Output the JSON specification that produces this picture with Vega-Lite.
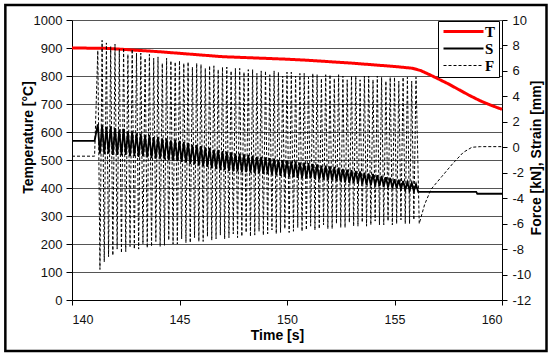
{
  "$schema": "https://vega.github.io/schema/vega-lite/v6.json",
  "width": 430,
  "height": 280,
  "autosize": {"type": "none"},
  "padding": {"left": 72, "top": 20, "right": 50, "bottom": 56},
  "background": "white",
  "datasets": {
    "temp": [
      {"t": 140, "T": 900}, {"t": 141.5, "T": 899}, {"t": 142, "T": 897}, {"t": 143, "T": 892},
      {"t": 144, "T": 887}, {"t": 145, "T": 881}, {"t": 146, "T": 875}, {"t": 147, "T": 869},
      {"t": 148, "T": 866}, {"t": 149, "T": 863}, {"t": 150, "T": 860}, {"t": 151, "T": 856},
      {"t": 152, "T": 851}, {"t": 153, "T": 846}, {"t": 154, "T": 840}, {"t": 155, "T": 834},
      {"t": 155.8, "T": 828}, {"t": 156.2, "T": 820}, {"t": 156.6, "T": 806}, {"t": 157, "T": 791},
      {"t": 157.5, "T": 772}, {"t": 158, "T": 751}, {"t": 158.5, "T": 730}, {"t": 159, "T": 711},
      {"t": 159.5, "T": 695}, {"t": 160, "T": 681}
    ],
    "osc": [
      {"t": 140, "S": 0.5, "F": -0.7},
      {"t": 141.05, "S": 0.5, "F": -0.7},
      {"t": 141.2, "S": 1.8, "F": 7.6}, {"t": 141.3, "S": -0.5, "F": -9.6},
      {"t": 141.4, "S": 1.75, "F": 8.4}, {"t": 141.5, "S": -0.55, "F": -9.0},
      {"t": 141.6, "S": 1.6, "F": 8.2}, {"t": 141.7, "S": -0.5, "F": -8.6},
      {"t": 141.8, "S": 1.65, "F": 7.9}, {"t": 141.9, "S": -0.6, "F": -8.5},
      {"t": 142.0, "S": 1.5, "F": 8.1}, {"t": 142.1, "S": -0.6, "F": -8.0},
      {"t": 142.2, "S": 1.4, "F": 7.7}, {"t": 142.3, "S": -0.65, "F": -8.3},
      {"t": 142.4, "S": 1.45, "F": 7.8}, {"t": 142.5, "S": -0.6, "F": -8.2},
      {"t": 142.6, "S": 1.25, "F": 7.3}, {"t": 142.7, "S": -0.7, "F": -7.8},
      {"t": 142.8, "S": 1.25, "F": 7.7}, {"t": 142.9, "S": -0.7, "F": -8.0},
      {"t": 143.0, "S": 1.1, "F": 7.4}, {"t": 143.1, "S": -0.75, "F": -8.0},
      {"t": 143.2, "S": 1.05, "F": 7.4}, {"t": 143.3, "S": -0.7, "F": -7.6},
      {"t": 143.4, "S": 0.95, "F": 7.0}, {"t": 143.5, "S": -0.8, "F": -7.9},
      {"t": 143.6, "S": 0.95, "F": 7.3}, {"t": 143.7, "S": -0.85, "F": -7.8},
      {"t": 143.8, "S": 0.8, "F": 7.0}, {"t": 143.9, "S": -0.9, "F": -7.4},
      {"t": 144.0, "S": 0.8, "F": 7.1}, {"t": 144.1, "S": -0.9, "F": -7.8},
      {"t": 144.2, "S": 0.7, "F": 6.6}, {"t": 144.3, "S": -0.95, "F": -7.7},
      {"t": 144.4, "S": 0.7, "F": 7.0}, {"t": 144.5, "S": -1.0, "F": -7.3},
      {"t": 144.6, "S": 0.55, "F": 6.8}, {"t": 144.7, "S": -1.05, "F": -7.6},
      {"t": 144.8, "S": 0.6, "F": 6.7}, {"t": 144.9, "S": -1.1, "F": -7.6},
      {"t": 145.0, "S": 0.5, "F": 6.8}, {"t": 145.1, "S": -1.15, "F": -7.2},
      {"t": 145.2, "S": 0.4, "F": 6.6}, {"t": 145.3, "S": -1.2, "F": -7.5},
      {"t": 145.4, "S": 0.35, "F": 6.7}, {"t": 145.5, "S": -1.3, "F": -7.5},
      {"t": 145.6, "S": 0.2, "F": 6.3}, {"t": 145.7, "S": -1.35, "F": -7.1},
      {"t": 145.8, "S": 0.2, "F": 6.6}, {"t": 145.9, "S": -1.45, "F": -7.4},
      {"t": 146.0, "S": 0.1, "F": 6.5}, {"t": 146.1, "S": -1.5, "F": -7.4},
      {"t": 146.2, "S": 0.0, "F": 6.2}, {"t": 146.3, "S": -1.55, "F": -7.0},
      {"t": 146.4, "S": -0.05, "F": 6.4}, {"t": 146.5, "S": -1.65, "F": -7.3},
      {"t": 146.6, "S": -0.2, "F": 6.4}, {"t": 146.7, "S": -1.7, "F": -7.2},
      {"t": 146.8, "S": -0.2, "F": 6.1}, {"t": 146.9, "S": -1.8, "F": -6.9},
      {"t": 147.0, "S": -0.3, "F": 6.3}, {"t": 147.1, "S": -1.8, "F": -7.2},
      {"t": 147.2, "S": -0.35, "F": 6.3}, {"t": 147.3, "S": -1.85, "F": -7.1},
      {"t": 147.4, "S": -0.4, "F": 6.0}, {"t": 147.5, "S": -1.9, "F": -6.8},
      {"t": 147.6, "S": -0.5, "F": 6.2}, {"t": 147.7, "S": -1.9, "F": -7.1},
      {"t": 147.8, "S": -0.5, "F": 6.2}, {"t": 147.9, "S": -1.95, "F": -7.0},
      {"t": 148.0, "S": -0.55, "F": 5.9}, {"t": 148.1, "S": -1.95, "F": -6.7},
      {"t": 148.2, "S": -0.6, "F": 6.1}, {"t": 148.3, "S": -2.0, "F": -7.0},
      {"t": 148.4, "S": -0.65, "F": 6.1}, {"t": 148.5, "S": -2.05, "F": -6.9},
      {"t": 148.6, "S": -0.75, "F": 5.8}, {"t": 148.7, "S": -2.05, "F": -6.6},
      {"t": 148.8, "S": -0.75, "F": 6.0}, {"t": 148.9, "S": -2.1, "F": -6.9},
      {"t": 149.0, "S": -0.8, "F": 6.0}, {"t": 149.1, "S": -2.1, "F": -6.8},
      {"t": 149.2, "S": -0.85, "F": 5.7}, {"t": 149.3, "S": -2.15, "F": -6.5},
      {"t": 149.4, "S": -0.9, "F": 6.0}, {"t": 149.5, "S": -2.2, "F": -6.8},
      {"t": 149.6, "S": -1.0, "F": 5.9}, {"t": 149.7, "S": -2.25, "F": -6.7},
      {"t": 149.8, "S": -1.0, "F": 5.6}, {"t": 149.9, "S": -2.3, "F": -6.4},
      {"t": 150.0, "S": -1.05, "F": 5.9}, {"t": 150.1, "S": -2.3, "F": -6.7},
      {"t": 150.2, "S": -1.1, "F": 5.9}, {"t": 150.3, "S": -2.35, "F": -6.6},
      {"t": 150.4, "S": -1.1, "F": 5.6}, {"t": 150.5, "S": -2.4, "F": -6.3},
      {"t": 150.6, "S": -1.2, "F": 5.8}, {"t": 150.7, "S": -2.4, "F": -6.6},
      {"t": 150.8, "S": -1.2, "F": 5.8}, {"t": 150.9, "S": -2.45, "F": -6.5},
      {"t": 151.0, "S": -1.25, "F": 5.5}, {"t": 151.1, "S": -2.45, "F": -6.2},
      {"t": 151.2, "S": -1.3, "F": 5.8}, {"t": 151.3, "S": -2.5, "F": -6.5},
      {"t": 151.4, "S": -1.35, "F": 5.7}, {"t": 151.5, "S": -2.55, "F": -6.4},
      {"t": 151.6, "S": -1.45, "F": 5.4}, {"t": 151.7, "S": -2.55, "F": -6.1},
      {"t": 151.8, "S": -1.45, "F": 5.7}, {"t": 151.9, "S": -2.6, "F": -6.4},
      {"t": 152.0, "S": -1.5, "F": 5.7}, {"t": 152.1, "S": -2.6, "F": -6.4},
      {"t": 152.2, "S": -1.55, "F": 5.4}, {"t": 152.3, "S": -2.65, "F": -6.0},
      {"t": 152.4, "S": -1.6, "F": 5.7}, {"t": 152.5, "S": -2.7, "F": -6.3},
      {"t": 152.6, "S": -1.7, "F": 5.6}, {"t": 152.7, "S": -2.75, "F": -6.3},
      {"t": 152.8, "S": -1.75, "F": 5.3}, {"t": 152.9, "S": -2.8, "F": -5.9},
      {"t": 153.0, "S": -1.8, "F": 5.6}, {"t": 153.1, "S": -2.8, "F": -6.2},
      {"t": 153.2, "S": -1.85, "F": 5.6}, {"t": 153.3, "S": -2.85, "F": -6.2},
      {"t": 153.4, "S": -1.9, "F": 5.3}, {"t": 153.5, "S": -2.9, "F": -5.9},
      {"t": 153.6, "S": -2.0, "F": 5.6}, {"t": 153.7, "S": -2.95, "F": -6.2},
      {"t": 153.8, "S": -2.05, "F": 5.6}, {"t": 153.9, "S": -3.0, "F": -6.1},
      {"t": 154.0, "S": -2.1, "F": 5.3}, {"t": 154.1, "S": -3.0, "F": -5.8},
      {"t": 154.2, "S": -2.2, "F": 5.6}, {"t": 154.3, "S": -3.05, "F": -6.1},
      {"t": 154.4, "S": -2.25, "F": 5.5}, {"t": 154.5, "S": -3.1, "F": -6.1},
      {"t": 154.6, "S": -2.35, "F": 5.2}, {"t": 154.7, "S": -3.15, "F": -5.8},
      {"t": 154.8, "S": -2.4, "F": 5.5}, {"t": 154.9, "S": -3.2, "F": -6.1},
      {"t": 155.0, "S": -2.5, "F": 5.5}, {"t": 155.1, "S": -3.2, "F": -6.0},
      {"t": 155.2, "S": -2.55, "F": 5.2}, {"t": 155.3, "S": -3.3, "F": -5.7},
      {"t": 155.4, "S": -2.65, "F": 5.5}, {"t": 155.5, "S": -3.35, "F": -6.0},
      {"t": 155.6, "S": -2.75, "F": 5.5}, {"t": 155.7, "S": -3.4, "F": -6.0},
      {"t": 155.8, "S": -2.8, "F": 5.2}, {"t": 155.9, "S": -3.45, "F": -5.7},
      {"t": 156.0, "S": -2.9, "F": 5.5},
      {"t": 156.1, "S": -3.5},
      {"t": 156.15, "F": -6.0},
      {"t": 156.4, "F": -4.5},
      {"t": 156.7, "F": -3.3},
      {"t": 157.2, "F": -2.3},
      {"t": 157.7, "F": -1.3},
      {"t": 158.2, "F": -0.4},
      {"t": 158.6, "F": 0.0},
      {"t": 158.8, "S": -3.5},
      {"t": 158.85, "S": -3.65},
      {"t": 159, "F": 0.05},
      {"t": 160, "S": -3.65, "F": 0.05}
    ]
  },
  "config": {
    "view": {"stroke": null},
    "font": "Liberation Sans",
    "axis": {
      "labelFont": "Liberation Sans",
      "labelFontSize": 13,
      "labelColor": "#111",
      "titleFont": "Liberation Sans",
      "titleFontSize": 14,
      "titleFontWeight": "bold",
      "titleColor": "#000",
      "domainColor": "#000",
      "tickColor": "#000",
      "domainWidth": 1,
      "tickWidth": 1
    }
  },
  "layer": [
    {
      "layer": [
        {
          "data": {"name": "temp"},
          "transform": [{"fold": ["T"], "as": ["series", "v"]}],
          "mark": {"type": "line", "strokeCap": "butt"},
          "encoding": {
            "x": {
              "field": "t", "type": "quantitative",
              "scale": {"domain": [140, 160], "nice": false, "zero": false},
              "axis": {"title": "Time [s]", "values": [140, 145, 150, 155, 160], "grid": false, "tickSize": 5, "labelPadding": 8, "labelFontSize": 12.5, "titleX": 205, "titleY": 35, "titleBaseline": "middle"}
            },
            "y": {
              "field": "v", "type": "quantitative",
              "scale": {"domain": [0, 1000], "nice": false, "zero": false},
              "axis": {"title": "Temperature [°C]", "orient": "left", "format": "d", "values": [0, 100, 200, 300, 400, 500, 600, 700, 800, 900, 1000], "labelOverlap": false, "grid": true, "gridColor": "#555", "gridWidth": 1, "tickSize": 6, "labelPadding": 4, "titleAngle": 270, "titleX": -44, "titleY": 117, "titleBaseline": "middle", "encode": {"title": {"update": {"y": {"value": 117}}}}}
            },
            "color": {
              "field": "series", "type": "nominal",
              "scale": {"domain": ["T", "S", "F"], "range": ["#ff0000", "#000000", "#000000"]},
              "legend": {"title": null, "orient": "none", "legendX": 366, "legendY": 1, "symbolType": "M-4,0L4,0", "symbolSize": 100, "symbolOffset": 15, "labelOffset": 14, "labelFont": "Liberation Serif", "labelFontWeight": "bold", "labelFontSize": 15, "labelColor": "#000", "strokeColor": "#000", "fillColor": "#fff", "padding": 3, "rowPadding": 1, "cornerRadius": 0}
            },
            "strokeDash": {
              "field": "series", "type": "nominal",
              "scale": {"domain": ["T", "S", "F"], "range": [[1, 0], [1, 0], [3, 2]]}
            },
            "strokeWidth": {
              "field": "series", "type": "nominal",
              "scale": {"type": "ordinal", "domain": ["T", "S", "F"], "range": [3, 1.8, 1]}
            }
          }
        },
        {
          "data": {"values": [{}]},
          "mark": {"type": "rect", "filled": false, "stroke": "#000", "strokeWidth": 2.5},
          "encoding": {
            "x": {
              "datum": 136.9, "type": "quantitative",
              "scale": {"domain": [140, 160], "nice": false, "zero": false},
              "axis": {"title": "Time [s]", "values": [140, 145, 150, 155, 160], "grid": false, "tickSize": 5, "labelPadding": 8, "labelFontSize": 12.5, "titleX": 205, "titleY": 35, "titleBaseline": "middle"}
            },
            "x2": {"datum": 162.07},
            "y": {
              "datum": 1053.6, "type": "quantitative",
              "scale": {"domain": [0, 1000], "nice": false, "zero": false},
              "axis": {"title": "Temperature [°C]", "orient": "left", "format": "d", "values": [0, 100, 200, 300, 400, 500, 600, 700, 800, 900, 1000], "labelOverlap": false, "grid": true, "gridColor": "#555", "gridWidth": 1, "tickSize": 6, "labelPadding": 4, "titleAngle": 270, "titleX": -44, "titleY": 117, "titleBaseline": "middle", "encode": {"title": {"update": {"y": {"value": 117}}}}}
            },
            "y2": {"datum": -182.1}
          }
        }
      ]
    },
    {
      "data": {"name": "osc"},
      "transform": [
        {"fold": ["S", "F"], "as": ["series", "v"]},
        {"filter": "isValid(datum.v)"}
      ],
      "mark": {"type": "line", "strokeCap": "butt"},
      "encoding": {
        "x": {
          "field": "t", "type": "quantitative",
          "scale": {"domain": [140, 160], "nice": false, "zero": false},
          "axis": {"title": "Time [s]", "values": [140, 145, 150, 155, 160], "grid": false, "tickSize": 5, "labelPadding": 8, "labelFontSize": 12.5, "titleX": 205, "titleY": 35, "titleBaseline": "middle"}
        },
        "y": {
          "field": "v", "type": "quantitative",
          "scale": {"domain": [-12, 10], "nice": false, "zero": false},
          "axis": {"title": "Force [kN], Strain [mm]", "orient": "right", "values": [-12, -10, -8, -6, -4, -2, 0, 2, 4, 6, 8, 10], "labelExpr": "'' + datum.value", "labelOverlap": false, "grid": false, "tickSize": 5, "labelPadding": 5, "titleAngle": 270, "titleX": 34, "titleY": 137.5, "titleBaseline": "middle", "encode": {"title": {"update": {"y": {"value": 137.5}}}}}
        },
        "color": {
          "field": "series", "type": "nominal",
          "scale": {"domain": ["T", "S", "F"], "range": ["#ff0000", "#000000", "#000000"]},
          "legend": {"title": null, "orient": "none", "legendX": 366, "legendY": 1, "symbolType": "M-4,0L4,0", "symbolSize": 100, "symbolOffset": 15, "labelOffset": 14, "labelFont": "Liberation Serif", "labelFontWeight": "bold", "labelFontSize": 15, "labelColor": "#000", "strokeColor": "#000", "fillColor": "#fff", "padding": 3, "rowPadding": 1, "cornerRadius": 0}
        },
        "strokeDash": {
          "field": "series", "type": "nominal",
          "scale": {"domain": ["T", "S", "F"], "range": [[1, 0], [1, 0], [3, 2]]}
        },
        "strokeWidth": {
          "field": "series", "type": "nominal",
          "scale": {"type": "ordinal", "domain": ["T", "S", "F"], "range": [3, 1.8, 1]}
        }
      }
    }
  ],
  "resolve": {"scale": {"y": "independent"}, "axis": {"y": "independent"}}
}
